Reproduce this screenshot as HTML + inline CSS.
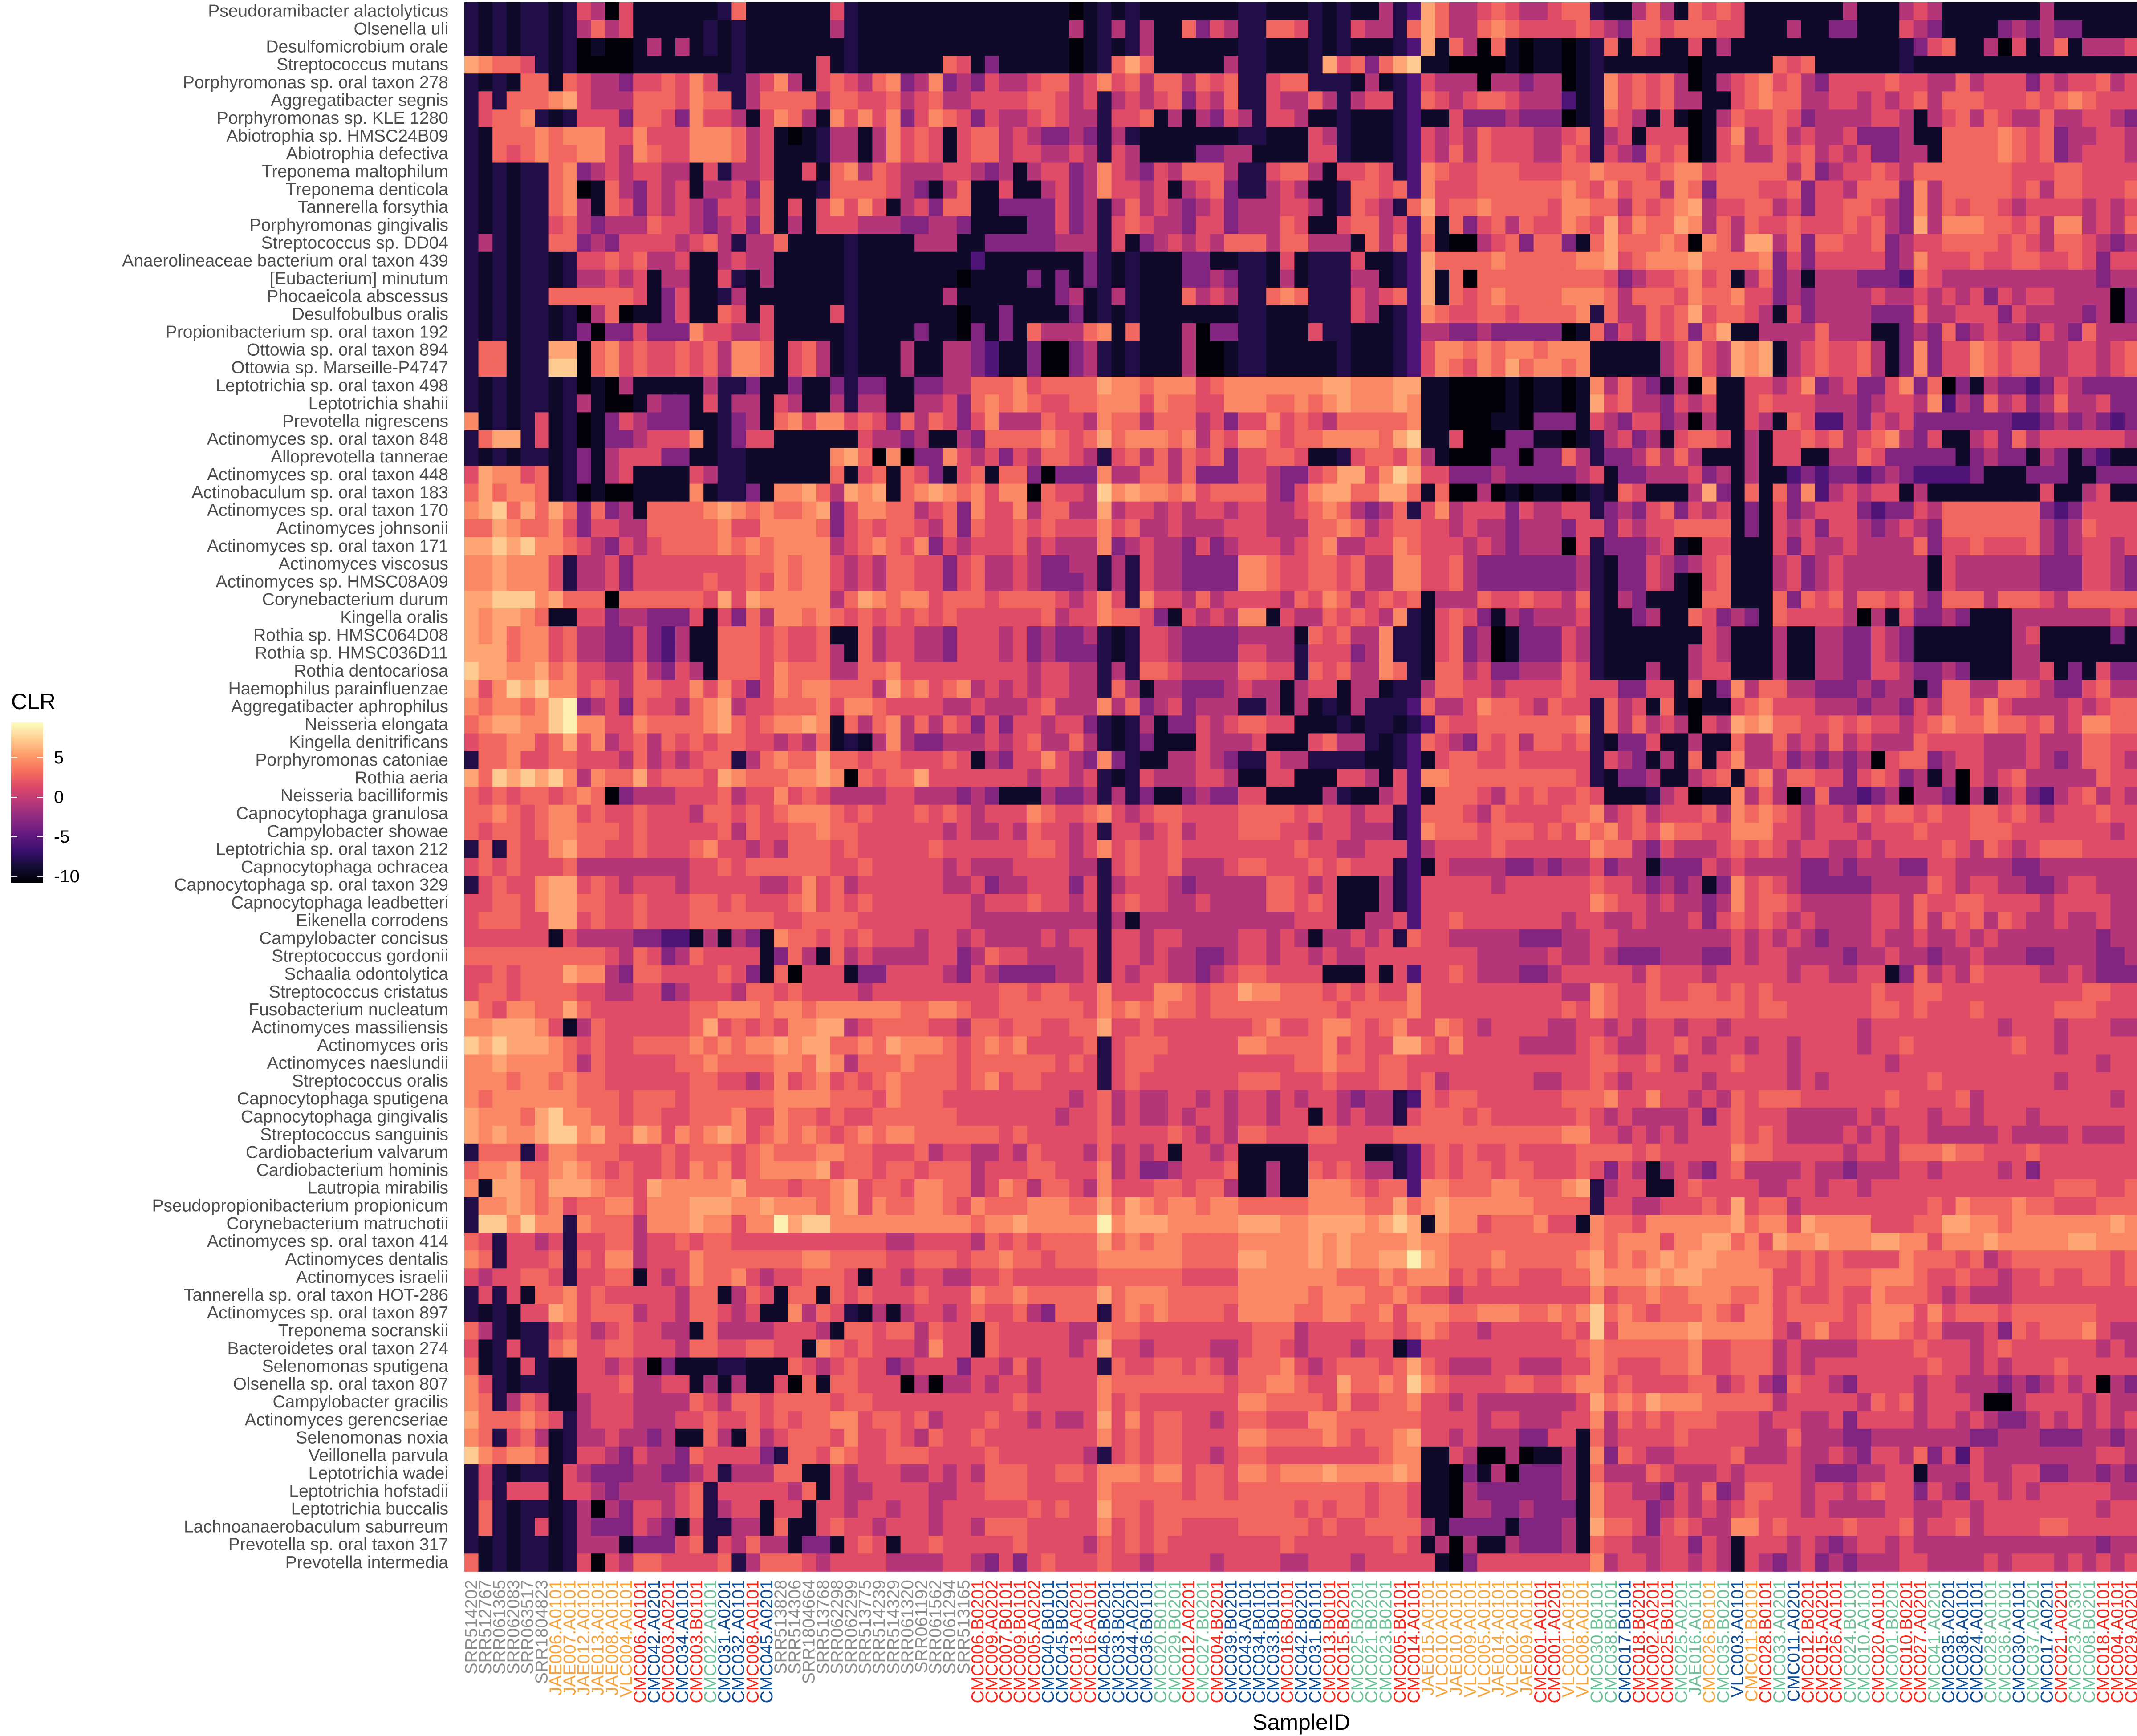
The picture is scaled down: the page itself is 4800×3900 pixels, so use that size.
<!DOCTYPE html>
<html>
<head>
<meta charset="utf-8">
<style>
  html, body { margin: 0; padding: 0; background: #ffffff; }
  body { width: 4800px; height: 3900px; overflow: hidden; }
  svg { display: block; font-family: "Liberation Sans", Arial, sans-serif; }
</style>
</head>
<body>
<svg id="chart" width="4800" height="3900" viewBox="0 0 4800 3900" xmlns="http://www.w3.org/2000/svg">
  <defs>
    <linearGradient id="magmaGrad" x1="0" y1="1" x2="0" y2="0">
      <stop offset="0" stop-color="#000004"/>
      <stop offset="0.1" stop-color="#140e36"/>
      <stop offset="0.2" stop-color="#3b0f70"/>
      <stop offset="0.3" stop-color="#641a80"/>
      <stop offset="0.4" stop-color="#8c2981"/>
      <stop offset="0.5" stop-color="#b73779"/>
      <stop offset="0.6" stop-color="#de4968"/>
      <stop offset="0.7" stop-color="#f7705c"/>
      <stop offset="0.8" stop-color="#fe9f6d"/>
      <stop offset="0.9" stop-color="#fecf92"/>
      <stop offset="1" stop-color="#fcfdbf"/>
    </linearGradient>
  </defs>
  <g id="cells"></g>
  <g id="ylabels"></g>
  <g id="xlabels"></g>
  <text x="2923" y="3886" font-size="50" text-anchor="middle" fill="#000000">SampleID</text>
  <g id="legend">
    <text x="25" y="1593" font-size="50" fill="#000000">CLR</text>
    <rect x="25" y="1623" width="72" height="360" fill="url(#magmaGrad)"/>
  </g>
</svg>
<script>
const rowLabels = ["Pseudoramibacter alactolyticus","Olsenella uli","Desulfomicrobium orale","Streptococcus mutans","Porphyromonas sp. oral taxon 278","Aggregatibacter segnis","Porphyromonas sp. KLE 1280","Abiotrophia sp. HMSC24B09","Abiotrophia defectiva","Treponema maltophilum","Treponema denticola","Tannerella forsythia","Porphyromonas gingivalis","Streptococcus sp. DD04","Anaerolineaceae bacterium oral taxon 439","[Eubacterium] minutum","Phocaeicola abscessus","Desulfobulbus oralis","Propionibacterium sp. oral taxon 192","Ottowia sp. oral taxon 894","Ottowia sp. Marseille-P4747","Leptotrichia sp. oral taxon 498","Leptotrichia shahii","Prevotella nigrescens","Actinomyces sp. oral taxon 848","Alloprevotella tannerae","Actinomyces sp. oral taxon 448","Actinobaculum sp. oral taxon 183","Actinomyces sp. oral taxon 170","Actinomyces johnsonii","Actinomyces sp. oral taxon 171","Actinomyces viscosus","Actinomyces sp. HMSC08A09","Corynebacterium durum","Kingella oralis","Rothia sp. HMSC064D08","Rothia sp. HMSC036D11","Rothia dentocariosa","Haemophilus parainfluenzae","Aggregatibacter aphrophilus","Neisseria elongata","Kingella denitrificans","Porphyromonas catoniae","Rothia aeria","Neisseria bacilliformis","Capnocytophaga granulosa","Campylobacter showae","Leptotrichia sp. oral taxon 212","Capnocytophaga ochracea","Capnocytophaga sp. oral taxon 329","Capnocytophaga leadbetteri","Eikenella corrodens","Campylobacter concisus","Streptococcus gordonii","Schaalia odontolytica","Streptococcus cristatus","Fusobacterium nucleatum","Actinomyces massiliensis","Actinomyces oris","Actinomyces naeslundii","Streptococcus oralis","Capnocytophaga sputigena","Capnocytophaga gingivalis","Streptococcus sanguinis","Cardiobacterium valvarum","Cardiobacterium hominis","Lautropia mirabilis","Pseudopropionibacterium propionicum","Corynebacterium matruchotii","Actinomyces sp. oral taxon 414","Actinomyces dentalis","Actinomyces israelii","Tannerella sp. oral taxon HOT-286","Actinomyces sp. oral taxon 897","Treponema socranskii","Bacteroidetes oral taxon 274","Selenomonas sputigena","Olsenella sp. oral taxon 807","Campylobacter gracilis","Actinomyces gerencseriae","Selenomonas noxia","Veillonella parvula","Leptotrichia wadei","Leptotrichia hofstadii","Leptotrichia buccalis","Lachnoanaerobaculum saburreum","Prevotella sp. oral taxon 317","Prevotella intermedia"];

const colLabels = ["SRR514202","SRR512767","SRR061365","SRR062083","SRR063517","SRR1804823","JAE006.A0101","JAE007.A0101","JAE012.A0101","JAE013.A0101","JAE008.A0101","VLC004.A0101","CMC006.A0101","CMC042.A0201","CMC003.A0201","CMC034.A0101","CMC003.B0101","CMC022.A0101","CMC031.A0201","CMC032.A0101","CMC008.A0101","CMC045.A0201","SRR513828","SRR514306","SRR1804664","SRR513768","SRR062298","SRR062299","SRR513775","SRR514239","SRR514329","SRR061320","SRR061192","SRR061562","SRR061294","SRR513165","CMC006.B0201","CMC009.A0202","CMC007.B0101","CMC009.B0101","CMC005.A0202","CMC040.B0101","CMC045.B0201","CMC013.A0201","CMC016.A0101","CMC046.B0201","CMC033.B0201","CMC044.A0201","CMC036.B0101","CMC020.B0101","CMC029.B0201","CMC012.A0201","CMC027.B0201","CMC004.B0201","CMC039.B0201","CMC043.A0101","CMC034.B0101","CMC033.B0101","CMC016.B0101","CMC042.B0201","CMC031.B0101","CMC013.B0101","CMC015.B0201","CMC025.B0201","CMC021.B0201","CMC023.B0201","CMC005.B0101","CMC014.A0101","JAE015.A0101","VLC010.A0101","JAE010.A0101","VLC009.A0101","VLC005.A0101","JAE014.A0101","VLC002.A0101","JAE009.A0101","CMC001.A0101","CMC001.A0201","VLC001.A0101","VLC008.A0101","CMC030.B0101","CMC038.B0101","CMC017.B0101","CMC018.B0201","CMC002.A0201","CMC025.B0101","CMC025.A0201","JAE016.A0101","CMC026.B0101","CMC035.B0201","VLC003.A0101","CMC011.B0101","CMC028.B0101","CMC033.A0201","CMC011.A0201","CMC012.B0201","CMC015.A0201","CMC026.A0101","CMC024.B0101","CMC010.A0101","CMC020.A0101","CMC001.B0201","CMC010.B0201","CMC027.A0201","CMC041.A0201","CMC035.A0201","CMC038.A0101","CMC024.A0101","CMC028.A0101","CMC036.A0101","CMC030.A0101","CMC037.A0201","CMC017.A0201","CMC021.A0201","CMC023.A0301","CMC008.B0201","CMC018.A0101","CMC004.A0101","CMC029.A0201"];

const colGroups = "ggggggoooooorbrbrtbbrbggggggggggggggrrrrrbbrrbbbbttrtrbbbbrbbrrtttrroooooooorroottbrrrttotbortbrrrttrtrrtbbbttbtbrttrrrt";

const groupColors = {g:"#8c8c8c", o:"#f9a33c", r:"#f5281c", b:"#0f4c96", t:"#6cc196"};

const levelValues = {"0":-10.6,"1":-9.3,"2":-8.1,"3":-5.8,"4":-3.2,"5":-0.8,"6":1.5,"7":2.9,"8":4.4,"9":5.7,"a":7.3,"b":8.8};

const clrA = [
"2121221265061111112711111162111111111111",
"2121221257561111121211111152111111111111",
"2121221201001515121211111112111111111111",
"9877621200001111111211111612111111761411",
"2121771765546676862256851676578458454655",
"2627778965557776877257777577667567556666",
"2677821266647764866516875186868468764655",
"2177787888668666888756101255158676167756",
"2176787788658766888756111255158676167756",
"2121227845656655162556116178576555665451",
"2121227801754656155647111277776541571161",
"2121227851764656546657161686861564771144",
"2121226754555766545647151666555445541111",
"2521227745466665675255711112111155511444",
"2121221266767556115655111112111111113111",
"2121221255656155116215111112111111101111",
"2121227777776146112511111112111111511111",
"2121221205701146117616111162111111101141",
"2121221240446444866556111112111141104141",
"2771229907867667675887167512111511554311",
"277122aa07867667675887167512111511554311",
"2121221201051111152241141142441144557778",
"2121221251001544162551651152551155647878",
"8121261201465444112451786886764757646855",
"2799261201445666812466111111655451154777",
"2121221241566644112211111189708044865646",
"6988671241561111652211111171671764167177",
"7978871201001111812241889759891789878688",
"89a7979747451777789878778946887756748668",
"7798778646655777778668888746767765747667",
"99a9a8876546567777878788885678768465666 7",
"8898886255646666666677878865657766467556",
"8898886255646666676676878865657766467556",
"99aaa897770777777696988888579878867 77677",
"9899871166455444616475887876767676766666",
"9897886755446435117776766711756655466656",
"9997886755446435117776766751756655466656",
"a998897866557546517776877755778666666666",
"968a9a8867657766868646878877759786785656",
"878878ab456476657895667778688766 66556555",
"789988ab886687777897678898175785757646 46",
"6778867968567576767766565712158544555656",
"2778667766657565677257877977677666761546",
"97a9a9a8587796777698777889807677 96666666"
];

const clrB = [
"1110121211111112211121211523975567655677",
"1115125251174652277621265527975578766667",
"1110121251111112211121211123917507101101",
"1110127971111152211129674 79a110000101101",
"6775686757757672267722215123655505545501",
"7765625656746572265575256623765677655531",
"6765526671515465266511211123116444544401",
"5445425211111112211165211123656576665567",
"6556526511114455111166211123657576665576",
"5664586546577752267751667623876677766677",
"1564586656156742256511277673866677777787",
"4464525756545645556651276527967787777688",
"4464526765546645557611677563817467576687",
"4455526145656577757755517573710056747741",
"1111421211144112216122261123977778777778",
"4141421211144542215122255123917077777777",
"1145125211175652278722265673917678777788",
"1114121211111112211122265123876677677778",
"7555781711150442211162211123554454444401",
"4004521211150012211111211123688787887888",
"4004521211150012211111211123687687978878",
"6777798878886788888889988899110000101101",
"7667788868776688877878988898110000101101",
"5766587757775646686765777778110001104441",
"78767978887857688767788887 9a116000441101",
"5776526757576746677611267768510004404475",
"40444855775744466544679968a9664445444445",
"07665a89887867777546899779971700501011 01",
"5775595665656656655678754572685666465566",
"6766686755655566655577875677665655455546",
"5655584565546456665678556687666565455506",
"5445525265544448876677675588667544444445",
"5444525265544448876677675588667544444445",
"7765686286657566665768756767155576676657",
"6756687764165658816557676582167641545556",
"4544521266544445555176755822167450144465",
"4544421266544446655266645822167450144465",
"5665525277655557766276755872177564455576",
"5665527515544456551566155122577665666676",
"6755585745645552251512152223755687765766",
"6566421251446567766111212212376677777778",
"7557521241116555611167552123765476757767",
"6865484211556542265522221123167766766666",
"5665621265556651166111665163887777777776"
];

const clrC = [
"211575176761111111511156511111115111111",
"654776777661115114411165411114545441111",
"271761161511111111111124671150615715556",
"211111101111176711111121111111111111111",
"286767501567867546666766557566646566756",
"286767551167877556656567577766676787666",
"276516101576676455556651567576557556654",
"256166601685675655644451177778767455665",
"265476701675576756564455177778767456665",
"877767886777775745667657777777666776666",
"686775874777667466577748577777675776667",
"775767895667756466776548576776566665656",
"696877985757667666767549588877675885657",
"797778708759957477667456677776765776545",
"896788897777846466666458666766776676466",
"764566786715745155544437655555555555455",
"875777687786645455556556565646566555504",
"275576796776516455554447556664655554504",
"746576747911555575551145474565546547555",
"111115686598915676675148466876775566567",
"111115686598915676675148466876775566567",
"857541508116656845644684704154434654444",
"967554656116766655545665835475645755644",
"654664505116517633546564444444334545434",
"256451677615166767567854611564756666665",
"244575751115166115576444441454415414311",
"614455564515113434434543333411144411444",
"217611159417174835656615111111116115611",
"245467465614164566643446577777774346666",
"646566777714165646654565477777775457666",
"244456106611164655655557466766675456656",
"214465456711156456555555165555554446654",
"214465106711156456555555165555554446654",
"215411107711174767577675477757776577777",
"211451176454176666505164454111555555565",
"211111116511151155446541111111561111141",
"211111156511151155446541111111551111111",
"211151156611151155446654454111556141644",
"664466171485775544454551477557765446755",
"275617101167866655545546577686555565677",
"275756506598977667676656787787767568877",
"214461151175575657565557666655565557766",
"265415171685564545450677456655565457765",
"214451156717857766467645150656755555766"
];

const clrA2 = [
"7676776787045556667566867655556655545411",
"7787678867667666577676788876766676765666",
"7677678877767666667576677877666666565565",
"2727668977667666786656577767666667666666",
"6767666755555555667677777766766666565556",
"2676689967656665666665568675666666556455",
"6677689977667666776766678676766666665666",
"6777669967667666777777667777666666665555",
"6666661655554433151541877676766656656555",
"7777777777657645766661475175655556645766",
"6676777988547766667641706661446666546544",
"6776777766556645666577676666566666666677",
"9768877976666666778887887888888778876677",
"8899986157666666796767688995677776657767",
"a9a9998767667777878788989977879888767878",
"8898888757666667787777887985777877767777",
"8887887877666666776656867867678777767867",
"8788888877767776777777888877768777666666",
"988879a887767766777866877676677777766666",
"989889aa89779868789867878767878877777767",
"2777268877766676777678777887766675665565",
"7889778987676676878678888967767767775666",
"8199879998776988888977767789677688775687",
"2889878677886888999889888789687788768777",
"2aa8a8828777588898868 8b9aa88888888887889",
"7626656266775667677666666666665566665767",
"8726667276885666877777778877776677767787",
"6566776266771656877865667776166566556676",
"2626177867666665771576177176766676668778",
"2121669867775665776561185762151566567667",
"7521226765676655175555666517767757661766",
"6126227866776665776677661876766658661766",
"7121621166565041112211176567664566646657",
"8621221166675566151511607177666050556566",
"8725761156665555765776777767766666666667",
"9777876256665556676676767788677675666766",
"8726751255655451175175677768667657667666",
"a878871266546554766664277687667776666766",
"2621221654445544562555771165666556565777",
"2626661665455556726666657165566665566777",
"2721221250546656725661661665665665666666",
"2721261254446541622551711676656665665777",
"2121221255514446726575514416761667666667",
"7121221260657766667257776566665555665464"
];

const clrB2 = [
"1544525241145446611115211563177765767667",
"8766786567766667777676656623777657666677",
"7665626656756667776656655523877767776768",
"7765686766766666666766556663566667666666",
"6665526766755567766676766623165555445455",
"6664625666545555577656111523666665666666",
"7665626766556555577676111523666666666666",
"5555525155555555555666115563667666666656",
"5656626656655556656515565627665555544455",
"5555626656554456656656556666666655555655",
"4455626566554567766661116163667655544566",
"6776686668876779887776767668666666666655",
"7777687878776777777777677778666666666676",
"7667796676666666786678876786687656666556",
"6666726777666668877778676699768666655556",
"7767626776666666666778776776666666666666",
"7666626766666667776667666776756666665566",
"6665675655665656656566545523767766666677",
"6656675655656656656616565526777676666667",
"6666676666765657766677666677777777777788",
"7666575656166561111166661123676766766667",
"7766685644566671151176765523676776776667",
"5776586667767751151188876773887778877789",
"8887797987887887777788887797898888887777",
"88888b8999888889998899998 9a9198867778661",
"6777797878877778888898988889887777777777",
"76777888888777799888989889 9b987778777778",
"6666677777766668888888777878886767766677",
"7777797888777778888878887787665666666666",
"5477727878777768888778877868887788877878",
"6665587766666666777566667767876656666676",
"6665696656666556776566656613666666666667",
"5666627667767657778656777679765556655566",
"56666877777777677887669778 7a876666776678",
"6666686766666668877776866778665655555556",
"5655696867766567766688777777666656655566",
"6666686767766668877778767789665655544661",
"6666526767766567766666666788116500501151",
"6677688878867768878889888898110415044451",
"6666687777767767777777776776110544444451",
"7676697767777777777676776776110554454441",
"6666686767766667777767667777514444144451",
"6666576767666666667666666676150511544451",
"6766676656666566665566656666610466666666"
];

const clrC2 = [
"611125601185750474434505540515643567565",
"856756667587876566576776766776765666766",
"786768776688866566656667666777666666656",
"877546555676765665565666676576 56777666",
"645514446565555445455544665555445555 55",
"766545451486765444445555765665544566555",
"876656554586776555556657667766665666655",
"655655564676765655556657576757655655655",
"665555555565656545556556556565555555455",
"654445554465665555455655455655544555445",
"666576665666665665566147565766665565444",
"876676677676766666667667766666666667766",
"876677777776776666667767666766666777666",
"656566566566666666656666666665666566655",
"765566765665665666656676666666766566666",
"776676566676665666666566666666666666566",
"765666665666665656666666766666666566666",
"786686656576777666666766667566666666656",
"656555564676665555565666566566656666666",
"665656566676765555656566555556555565556",
"777676666687766666566577787766676666666",
"646515654675555655455566566665646666666",
"256611676666556656656666666666666777667",
"266556667696775666666666768777877666777",
"877688888897886988886667799887888888898",
"878886889978698898889988688898888899888",
"978789899888776767666687776756777777767",
"988898998888866767778887667665667667767",
"867787788877867667668777656555666666666",
"a78767778768867777678886867776777777666",
"a68888898888865786678876755564767778655",
"877777786677756555566667666567666666565",
"876667786677756566666666766565666766666",
"867666677567547665466665665554545656054",
"978798887777756666657675666500566665655",
"857676777666566556466665665654456565656",
"756666766666557555445555555445554445545",
"847655666675556556546657463655555555665",
"755576555656666544455661555655664455454",
"866554657457766566567664654665656666655",
"866645656567666565555665566566666666566",
"977646765588676666766675667566667766666",
"766556646516665654566565555555555555455",
"856656656516545645455566555565666565656"
];

const magmaStops = [
  [0.0,[0,0,4]],[0.1,[20,14,54]],[0.2,[59,15,112]],[0.3,[100,26,128]],
  [0.4,[140,41,129]],[0.5,[183,55,121]],[0.6,[222,73,104]],[0.7,[247,112,92]],
  [0.8,[254,159,109]],[0.9,[254,207,146]],[1.0,[252,253,191]]
];
const clrMin = -10.79, clrMax = 9.44;
const legendTicks = [5, 0, -5, -10];

const plotLeft = 1043, plotTop = 5, cellW = 31.6, cellH = 40.06;
const nCols = colLabels.length, nRows = rowLabels.length;
const NS = "http://www.w3.org/2000/svg";

function xScale(i) { return plotLeft + i * cellW; }
function yScale(j) { return plotTop + j * cellH; }
function magma(v) {
  let t = (v - clrMin) / (clrMax - clrMin);
  t = Math.max(0, Math.min(1, t));
  for (let k = 1; k < magmaStops.length; k++) {
    if (t <= magmaStops[k][0]) {
      const a = magmaStops[k-1], b = magmaStops[k];
      const f = (t - a[0]) / (b[0] - a[0]);
      const c = a[1].map((ca, n) => Math.round(ca + (b[1][n] - ca) * f));
      return "rgb(" + c.join(",") + ")";
    }
  }
  return "rgb(252,253,191)";
}
function fitSeg(s, len) {
  s = s.replace(/\s+/g, "");
  while (s.length < len) s += s.charAt(s.length - 1);
  return s.slice(0, len);
}
function rowString(j) {
  const top = j < 44;
  const k = top ? j : j - 44;
  const a = top ? clrA[k] : clrA2[k];
  const b = top ? clrB[k] : clrB2[k];
  const c = top ? clrC[k] : clrC2[k];
  return fitSeg(a, 40) + fitSeg(b, 40) + fitSeg(c, 39);
}
const legendY = v => 1623 + (clrMax - v) / (clrMax - clrMin) * 360;

const cellsG = document.getElementById("cells");
for (let j = 0; j < nRows; j++) {
  const s = rowString(j);
  for (let i = 0; i < nCols; i++) {
    const v = levelValues[s.charAt(i)];
    const r = document.createElementNS(NS, "rect");
    r.setAttribute("x", xScale(i).toFixed(2));
    r.setAttribute("y", yScale(j).toFixed(2));
    r.setAttribute("width", (cellW + 0.6).toFixed(2));
    r.setAttribute("height", (cellH + 0.6).toFixed(2));
    r.setAttribute("fill", magma(v));
    
    
    cellsG.appendChild(r);
  }
}

const yG = document.getElementById("ylabels");
rowLabels.forEach((lab, j) => {
  const t = document.createElementNS(NS, "text");
  t.setAttribute("x", 1007);
  t.setAttribute("y", (yScale(j) + cellH / 2).toFixed(1));
  t.setAttribute("text-anchor", "end");
  t.setAttribute("dominant-baseline", "central");
  t.setAttribute("font-size", "39");
  t.setAttribute("fill", "#4d4d4d");
  t.textContent = lab;
  
  
  yG.appendChild(t);
});

const xG = document.getElementById("xlabels");
colLabels.forEach((lab, i) => {
  const t = document.createElementNS(NS, "text");
  const cx = xScale(i) + cellW / 2;
  t.setAttribute("transform", "translate(" + cx.toFixed(1) + ",3549) rotate(-90)");
  t.setAttribute("text-anchor", "end");
  t.setAttribute("dominant-baseline", "central");
  t.setAttribute("font-size", "39");
  t.setAttribute("fill", groupColors[colGroups.charAt(i)] || "#8c8c8c");
  t.textContent = lab;
  
  
  xG.appendChild(t);
});

const legG = document.getElementById("legend");
legendTicks.forEach(v => {
  const y = legendY(v);
  [[25, 39], [83, 97]].forEach(seg => {
    const l = document.createElementNS(NS, "line");
    l.setAttribute("x1", seg[0]); l.setAttribute("x2", seg[1]);
    l.setAttribute("y1", y.toFixed(1)); l.setAttribute("y2", y.toFixed(1));
    l.setAttribute("stroke", "#ffffff"); l.setAttribute("stroke-width", "2");
    
    
    legG.appendChild(l);
  });
  const t = document.createElementNS(NS, "text");
  t.setAttribute("x", 121);
  t.setAttribute("y", y.toFixed(1));
  t.setAttribute("dominant-baseline", "central");
  t.setAttribute("font-size", "40");
  t.setAttribute("fill", "#000000");
  t.textContent = String(v);
  
  
  legG.appendChild(t);
});
</script>
</body>
</html>
